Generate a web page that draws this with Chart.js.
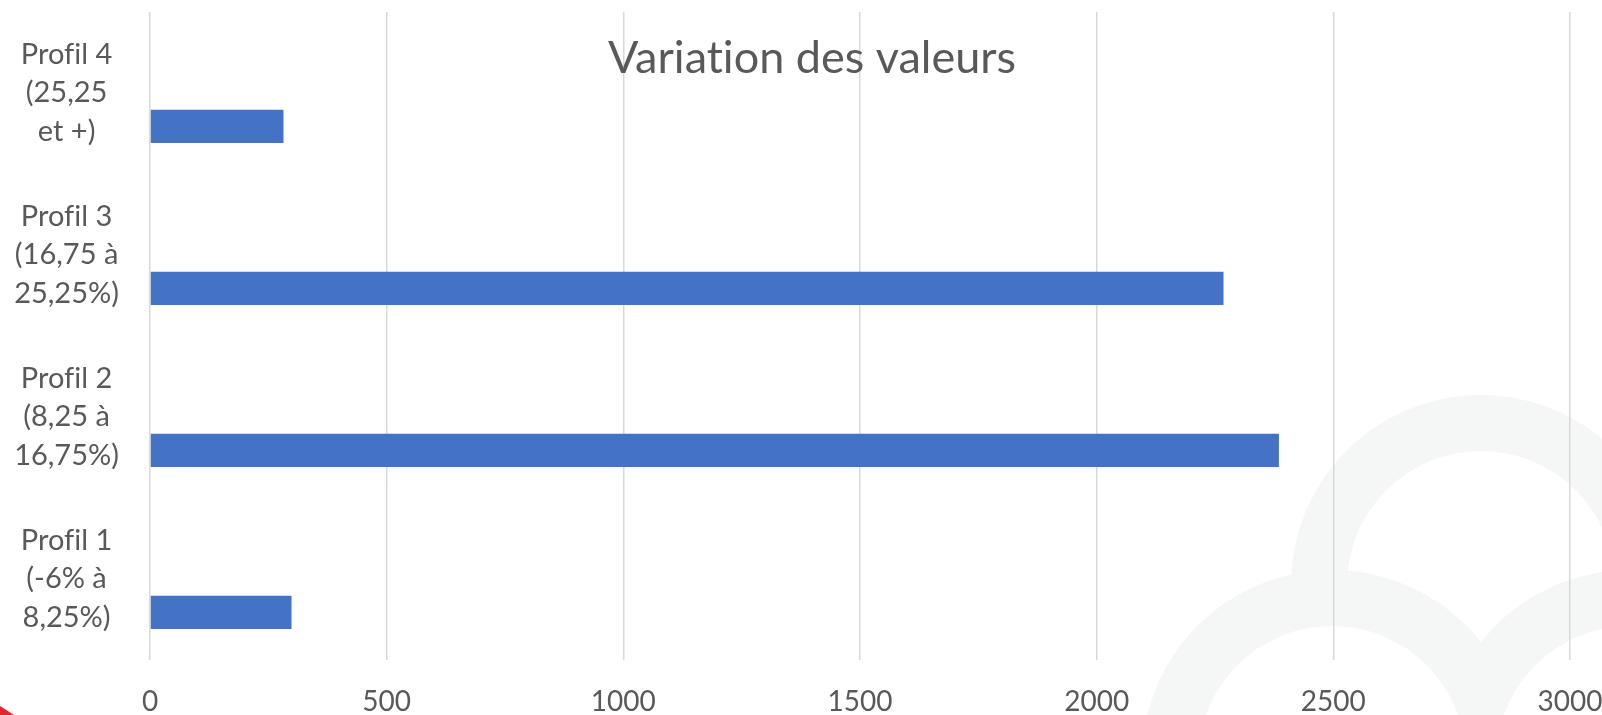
<!DOCTYPE html>
<html>
<head>
<meta charset="utf-8">
<script src="https://cdn.jsdelivr.net/npm/chart.js@4/dist/chart.umd.min.js"></script>
<style>
  html, body { margin: 0; padding: 0; background: #ffffff; }
  #wrap { width: 1602px; height: 715px; position: relative; }
</style>
</head>
<body>
<div id="wrap"><canvas id="c" width="1602" height="715"></canvas></div>
<script>
// ---- data ----
const chartTitle = 'Variation des valeurs';
const categories = [
  ['Profil 1', '(-6% à', '8,25%)'],
  ['Profil 2', '(8,25 à', '16,75%)'],
  ['Profil 3', '(16,75 à', '25,25%)'],
  ['Profil 4', '(25,25', 'et +)']
];
const seriesValues = [299, 2385, 2268, 282];
const emptySeriesA = [];
const emptySeriesB = [];
const xTicks = [0, 500, 1000, 1500, 2000, 2500, 3000];
const xTickLabels = ['0', '500', '1000', '1500', '2000', '2500', '3000'];

const textColor = '#595959';
const barColor = '#4472C4';

const decorPlugin = {
  id: 'decor',
  beforeDraw(chart) {
    const ctx = chart.ctx;
    ctx.textRendering = 'optimizeSpeed';
    ctx.save();
    ctx.fillStyle = '#ffffff';
    ctx.fillRect(0, 0, chart.width, chart.height);
    const grey = '#f5f6f6';
    ctx.beginPath();
    ctx.arc(1481, 585, 190, 0, Math.PI * 2);
    ctx.arc(1481, 585, 134, 0, Math.PI * 2, true);
    ctx.fillStyle = grey;
    ctx.fill();
    [[1332, 760], [1630, 760]].forEach(([cx, cy]) => {
      ctx.beginPath();
      ctx.arc(cx, cy, 190, 0, Math.PI * 2);
      ctx.fillStyle = grey;
      ctx.fill();
    });
    [[1332, 760], [1630, 760]].forEach(([cx, cy]) => {
      ctx.beginPath();
      ctx.arc(cx, cy, 134, 0, Math.PI * 2);
      ctx.fillStyle = '#ffffff';
      ctx.fill();
    });
    ctx.beginPath();
    ctx.moveTo(0, 706);
    ctx.lineTo(14, 715);
    ctx.lineTo(0, 715);
    ctx.closePath();
    ctx.fillStyle = '#e3262f';
    ctx.fill();
    ctx.restore();
  },
  afterDraw(chart) {
    const ctx = chart.ctx;
    ctx.save();
    ctx.textRendering = 'optimizeSpeed';
    ctx.font = '45px Lato';
    ctx.fillStyle = textColor;
    ctx.textAlign = 'center';
    ctx.textBaseline = 'alphabetic';
    ctx.fillText(chartTitle, 812, 73);
    ctx.restore();
  }
};

new Chart(document.getElementById('c'), {
  type: 'bar',
  data: {
    labels: categories,
    datasets: [
      { label: 'S3', data: emptySeriesA, backgroundColor: barColor },
      { label: 'S2', data: emptySeriesB, backgroundColor: barColor },
      { label: 'Série 1', data: seriesValues, backgroundColor: barColor }
    ]
  },
  options: {
    indexAxis: 'y',
    responsive: false,
    animation: false,
    devicePixelRatio: 1,
    layout: { padding: { top: 12, right: 32, left: 0, bottom: 0 } },
    datasets: { bar: { categoryPercentage: 0.6185, barPercentage: 1.0 } },
    plugins: {
      legend: { display: false },
      tooltip: { enabled: false },
      title: { display: false }
    },
    scales: {
      x: {
        type: 'linear',
        min: xTicks[0],
        max: xTicks[xTicks.length - 1],
        afterBuildTicks(scale) { scale.ticks = xTicks.map(v => ({ value: v })); },
        ticks: {
          color: textColor,
          font: { family: 'Lato', size: 28, lineHeight: 1.2 },
          padding: 25,
          maxRotation: 0,
          callback: (v) => xTickLabels[xTicks.indexOf(v)]
        },
        grid: { color: '#d9d9d9', lineWidth: 1.5, drawTicks: false },
        border: { display: false },
        afterFit(scale) { scale.height = 55; scale.paddingLeft = 0; scale.paddingRight = 0; }
      },
      y: {
        type: 'category',
        reverse: true,
        ticks: {
          color: textColor,
          font: { family: 'Lato', size: 29, lineHeight: 1.32 },
          padding: 31,
          crossAlign: 'center',
          autoSkip: false
        },
        grid: { display: false, drawTicks: false },
        border: { display: false },
        afterFit(scale) { scale.width = 150; scale.paddingTop = 0; scale.paddingBottom = 0; }
      }
    }
  },
  plugins: [decorPlugin]
});
</script>
</body>
</html>
